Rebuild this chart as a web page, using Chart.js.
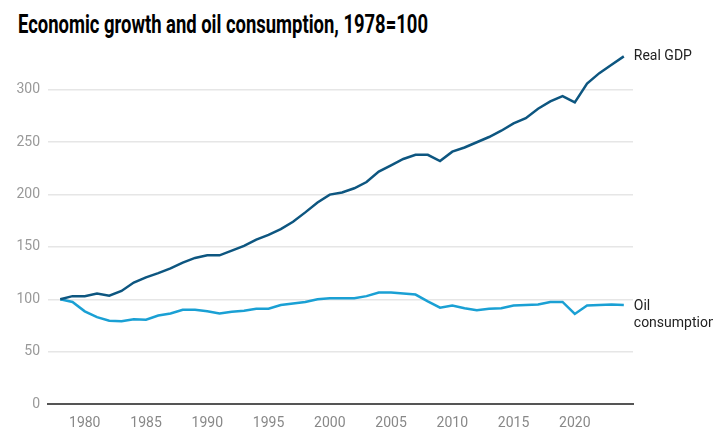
<!DOCTYPE html>
<html>
<head>
<meta charset="utf-8">
<script src="https://cdn.jsdelivr.net/npm/chart.js@4"></script>
<style>
  body { margin: 0; background: #fff; }
  #wrap { position: relative; width: 713px; height: 438px; }
  h1 { position: absolute; left: 18px; top: 9px; margin: 0; font: bold 26px Roboto, sans-serif; line-height: 30px; color: #000; white-space: nowrap; transform-origin: 0 0; }
  canvas { position: absolute; left: 0; top: 0; }
</style>
</head>
<body>
<div id="wrap">
  <h1 id="title">Economic growth and oil consumption, 1978=100</h1>
  <canvas id="chart" width="713" height="438"></canvas>
</div>
<script>
const years = [1978,1979,1980,1981,1982,1983,1984,1985,1986,1987,1988,1989,1990,1991,1992,1993,1994,1995,1996,1997,1998,1999,2000,2001,2002,2003,2004,2005,2006,2007,2008,2009,2010,2011,2012,2013,2014,2015,2016,2017,2018,2019,2020,2021,2022,2023,2024]
const realGdp = [100,103,103,105.5,103.5,108,116,121,125,129.5,135,139.5,142,142,146.5,151,157,161.5,167,174,183,192.5,200,202,206,212,222,228,234,238,238,232,241,245,250,255,261,268,273,282,289,294,288,306,316,324,332]
const oilConsumption = [100,97.5,88.5,83,79.5,79,81,80.5,84.5,86.5,90,90,88.5,86.5,88,89,91,91,94.5,96,97.5,100,101,101,101,103,106.5,106.5,105.5,104.5,98,92,94,91.5,89.5,91,91.5,94,94.5,95,97.5,97.5,86,94,94.5,95,94.5]
const xTicks = [1980,1985,1990,1995,2000,2005,2010,2015,2020]
const yTicks = [0,50,100,150,200,250,300]
const seriesNames = ['Real GDP', ['Oil', 'consumption']]

// squeeze the title to the narrow width of the original
const t = document.getElementById('title')
t.style.transform = 'scaleX(' + (410 / t.getBoundingClientRect().width) + ')'

const endLabels = {
    id: 'endLabels',
    afterDatasetsDraw(chart){
        const { ctx } = chart
        ctx.save()
        ctx.font = '14px Roboto'
        ctx.fillStyle = '#222'
        ctx.textBaseline = 'middle'
        chart.data.datasets.forEach((ds, i) => {
            const pt = chart.getDatasetMeta(i).data[ds.data.length - 1]
            const lines = [].concat(seriesNames[i])
            const y0 = pt.y - (lines.length - 1) * 17 / 2 + (i == 1 ? 10 : 0)
            lines.forEach((s, j) => ctx.fillText(s, pt.x + 10, y0 + j * 17))
        })
        ctx.restore()
    }
}

new Chart(document.getElementById('chart'), {
    type: 'line',
    data: {
        datasets: [
            { data: years.map((y, i) => ({ x: y, y: realGdp[i] })), borderColor: '#0d5680', borderWidth: 2.5 },
            { data: years.map((y, i) => ({ x: y, y: oilConsumption[i] })), borderColor: '#1aa0d4', borderWidth: 2.5 }
        ]
    },
    plugins: [endLabels],
    options: {
        responsive: false,
        animation: false,
        elements: { point: { radius: 0 }, line: { tension: 0 } },
        layout: { padding: { top: 48, right: 80, left: 0, bottom: 0 } },
        plugins: { legend: { display: false }, tooltip: { enabled: false } },
        scales: {
            x: {
                type: 'linear',
                min: 1977,
                max: 2024.75,
                afterBuildTicks: s => { s.ticks = xTicks.map(v => ({ value: v })) },
                afterFit: s => { s.height = 34 },
                grid: { display: false, drawTicks: false },
                border: { display: true, color: '#555', width: 2 },
                ticks: { color: '#888', font: { family: 'Roboto', size: 14 }, padding: 11, maxRotation: 0, callback: v => String(v) }
            },
            y: {
                min: 0,
                max: 340,
                afterBuildTicks: s => { s.ticks = yTicks.map(v => ({ value: v })) },
                afterFit: s => { s.width = 48 },
                grid: { color: '#e6e6e6', lineWidth: 1.5, drawTicks: false },
                border: { display: false },
                ticks: { color: '#999', font: { family: 'Roboto', size: 14 }, padding: 8 }
            }
        }
    }
})
</script>
</body>
</html>
